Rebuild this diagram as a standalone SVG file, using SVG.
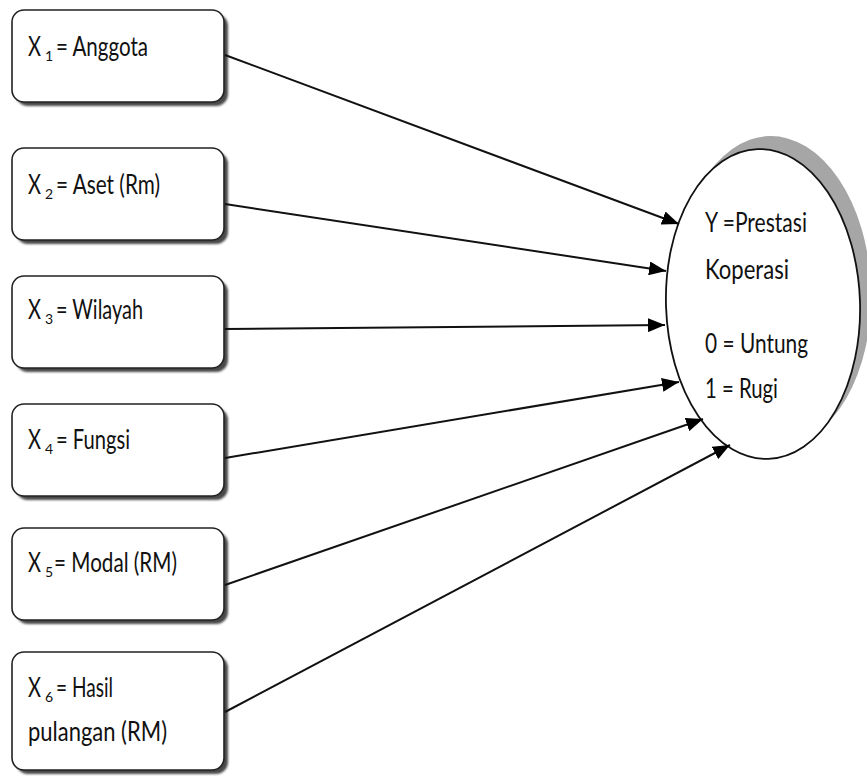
<svg xmlns="http://www.w3.org/2000/svg" width="867" height="777" viewBox="0 0 867 777">
  <style>
    .box { fill: #ffffff; stroke: #222222; stroke-width: 1.6; }
    .shadow { fill: #4a4a4a; filter: url(#blur); }
    .lbl { font-family: Lato, "Open Sans", "Liberation Sans", sans-serif; font-size: 27px; fill: #111111; }
    .x { font-family: Lato, "Open Sans", "Liberation Sans", sans-serif; font-size: 27px; fill: #111111; }
    .sub { font-family: Lato, "Open Sans", "Liberation Sans", sans-serif; font-size: 14px; fill: #111111; }
    .conn { stroke: #111111; stroke-width: 2; fill: none; marker-end: url(#arrow); }
  </style>
  <defs>
    <filter id="blur" x="-10%" y="-10%" width="120%" height="120%">
      <feGaussianBlur stdDeviation="1.2"/>
    </filter>
    <marker id="arrow" markerUnits="userSpaceOnUse" markerWidth="18" markerHeight="14" refX="17" refY="7" orient="auto">
      <path d="M0,0 L17,7 L0,14 Z" fill="#000000"/>
    </marker>
  </defs>
  <rect width="867" height="777" fill="#ffffff"/>

  <g id="node-x1">
    <rect class="shadow" x="16" y="14" width="212" height="92" rx="12"/>
    <rect class="box" x="12" y="10" width="212" height="92" rx="12"/>
    <text class="x" x="28" y="56" textLength="13" lengthAdjust="spacingAndGlyphs">X</text>
    <text class="sub" x="45" y="61">1</text>
    <text class="lbl" x="56" y="56" textLength="92" lengthAdjust="spacingAndGlyphs">= Anggota</text>
  </g>
  <g id="node-x2">
    <rect class="shadow" x="16" y="152" width="212" height="92" rx="12"/>
    <rect class="box" x="12" y="148" width="212" height="92" rx="12"/>
    <text class="x" x="28" y="194" textLength="13" lengthAdjust="spacingAndGlyphs">X</text>
    <text class="sub" x="45" y="199">2</text>
    <text class="lbl" x="56" y="194" textLength="104" lengthAdjust="spacingAndGlyphs">= Aset (Rm)</text>
  </g>
  <g id="node-x3">
    <rect class="shadow" x="16" y="280" width="212" height="92" rx="12"/>
    <rect class="box" x="12" y="276" width="212" height="92" rx="12"/>
    <text class="x" x="28" y="319" textLength="13" lengthAdjust="spacingAndGlyphs">X</text>
    <text class="sub" x="45" y="324">3</text>
    <text class="lbl" x="56" y="319" textLength="87" lengthAdjust="spacingAndGlyphs">= Wilayah</text>
  </g>
  <g id="node-x4">
    <rect class="shadow" x="16" y="408" width="212" height="92" rx="12"/>
    <rect class="box" x="12" y="404" width="212" height="92" rx="12"/>
    <text class="x" x="28" y="449" textLength="13" lengthAdjust="spacingAndGlyphs">X</text>
    <text class="sub" x="45" y="454">4</text>
    <text class="lbl" x="56" y="449" textLength="74" lengthAdjust="spacingAndGlyphs">= Fungsi</text>
  </g>
  <g id="node-x5">
    <rect class="shadow" x="16" y="532" width="212" height="92" rx="12"/>
    <rect class="box" x="12" y="528" width="212" height="92" rx="12"/>
    <text class="x" x="28" y="572" textLength="13" lengthAdjust="spacingAndGlyphs">X</text>
    <text class="sub" x="45" y="577">5</text>
    <text class="lbl" x="54" y="572" textLength="123" lengthAdjust="spacingAndGlyphs">= Modal (RM)</text>
  </g>
  <g id="node-x6">
    <rect class="shadow" x="16" y="656" width="212" height="118" rx="12"/>
    <rect class="box" x="12" y="652" width="212" height="118" rx="12"/>
    <text class="x" x="28" y="697" textLength="13" lengthAdjust="spacingAndGlyphs">X</text>
    <text class="sub" x="45" y="702">6</text>
    <text class="lbl" x="56" y="697" textLength="57" lengthAdjust="spacingAndGlyphs">= Hasil</text>
    <text class="lbl" x="28" y="741" textLength="139" lengthAdjust="spacingAndGlyphs">pulangan (RM)</text>
  </g>

  <g id="node-y">
    <ellipse cx="774" cy="291" rx="97" ry="155" fill="#a6a6a6" transform="rotate(-2 774 291)"/>
    <ellipse cx="763" cy="304" rx="97" ry="155" fill="#ffffff" stroke="#111111" stroke-width="1.8" transform="rotate(-2 763 304)"/>
    <text class="lbl" x="705" y="232" textLength="102" lengthAdjust="spacingAndGlyphs">Y =Prestasi</text>
    <text class="lbl" x="705" y="279" textLength="84" lengthAdjust="spacingAndGlyphs">Koperasi</text>
    <text class="lbl" x="705" y="353" textLength="103" lengthAdjust="spacingAndGlyphs">0 = Untung</text>
    <text class="lbl" x="705" y="398" textLength="73" lengthAdjust="spacingAndGlyphs">1 = Rugi</text>
  </g>

  <g id="connectors">
    <line class="conn" x1="225" y1="55" x2="679" y2="224"/>
    <line class="conn" x1="225" y1="204" x2="666" y2="271"/>
    <line class="conn" x1="225" y1="329" x2="665" y2="325"/>
    <line class="conn" x1="225" y1="458" x2="679" y2="382"/>
    <line class="conn" x1="225" y1="585" x2="703" y2="419"/>
    <line class="conn" x1="225" y1="712" x2="730" y2="445"/>
  </g>
</svg>
